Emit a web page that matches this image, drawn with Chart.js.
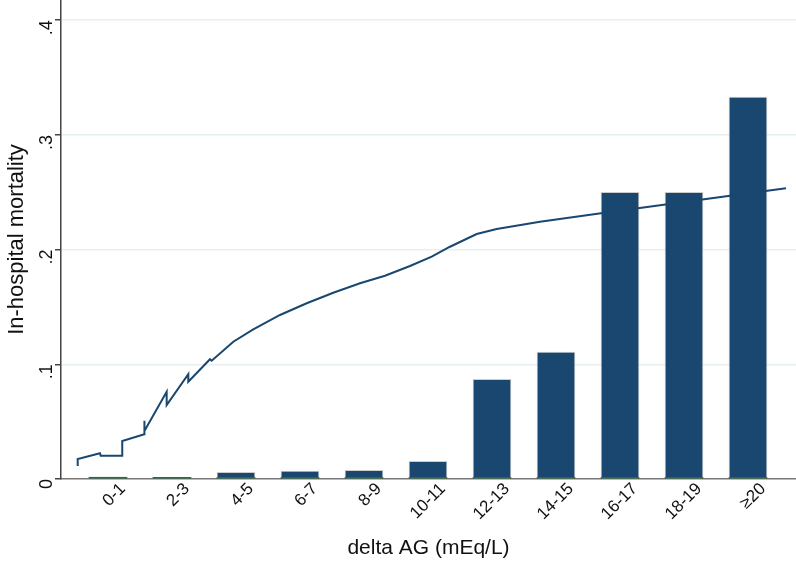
<!DOCTYPE html>
<html lang="en">
<head>
    <meta charset="UTF-8">
    <title>In-hospital mortality by delta AG</title>
    <script src="https://cdn.jsdelivr.net/npm/chart.js"></script>
    <style>
        body { margin: 0; background: #fff; }
        #wrap { width: 796px; height: 561px; }
    </style>
</head>
<body>
    <div id="wrap"><canvas id="mortalityChart"></canvas></div>

    <script>
        // delta AG categories (bars sit at x = 0..10)
        const categories = ['0-1', '2-3', '4-5', '6-7', '8-9', '10-11', '12-13', '14-15', '16-17', '18-19', '\u226520'];
        const mortality = [0.0018, 0.0015, 0.0058, 0.0070, 0.0076, 0.0155, 0.0869, 0.1107, 0.25, 0.25, 0.333];
        const baseline = [0.0015, 0.0015, 0.0015, 0.0015, 0.0015, 0.0015, 0.0015, 0.0015, 0.0015, 0.0015, 0.0015];

        // smoothed curve, x in category units
        const smoothX = [-0.473, -0.473, -0.125, -0.114, 0.223, 0.223, 0.567, 0.567, 0.572, 0.917, 0.917, 1.255, 1.255,
            1.594, 1.620, 1.958, 2.270, 2.688, 3.105, 3.520, 3.938, 4.328, 4.719, 5.058, 5.344, 5.761, 6.073,
            6.750, 7.703, 9.719, 10.594];
        const smoothY = [0.0113, 0.0174, 0.0224, 0.0203, 0.0203, 0.0331, 0.0390, 0.0508, 0.0418, 0.0761, 0.0645, 0.0913, 0.0848,
            0.1044, 0.1031, 0.1197, 0.1305, 0.1430, 0.1532, 0.1624, 0.1706, 0.1772, 0.1857, 0.1938, 0.2025, 0.2136, 0.2180,
            0.2243, 0.2316, 0.2470, 0.2534];

        const yTicks = [0, 0.1, 0.2, 0.3, 0.4];

        const navy = '#1a476f';
        const font = "'Liberation Sans', Arial, sans-serif";

        const ctx = document.getElementById('mortalityChart').getContext('2d');
        const chart = new Chart(ctx, {
            data: {
                datasets: [
                    {
                        type: 'line',
                        data: smoothX.map((x, i) => ({ x: x, y: smoothY[i] })),
                        borderColor: navy,
                        borderWidth: 2,
                        pointRadius: 0,
                        tension: 0,
                        order: 0,
                    },
                    {
                        type: 'bar',
                        data: baseline.map((v, i) => ({ x: i, y: v })),
                        backgroundColor: '#2c6b3c',
                        barThickness: 38,
                        grouped: false,
                        order: 1,
                    },
                    {
                        type: 'bar',
                        data: mortality.map((v, i) => ({ x: i, y: v })),
                        backgroundColor: navy,
                        borderColor: 'rgba(200,200,200,0.9)',
                        borderWidth: 1,
                        borderSkipped: 'bottom',
                        barThickness: 38,
                        grouped: false,
                        order: 2,
                    },
                ],
            },
            options: {
                responsive: true,
                maintainAspectRatio: false,
                animation: false,
                layout: { padding: 0 },
                plugins: {
                    legend: { display: false },
                    tooltip: { enabled: false },
                },
                scales: {
                    x: {
                        type: 'linear',
                        offset: false,
                        min: -0.734,
                        max: 10.75,
                        afterBuildTicks: (axis) => {
                            axis.ticks = categories.map((c, i) => ({ value: i }));
                        },
                        afterFit: (axis) => {
                            axis.height = 82;
                            axis.paddingLeft = 0;
                            axis.paddingRight = 0;
                        },
                        ticks: {
                            minRotation: 45,
                            maxRotation: 45,
                            color: '#111',
                            font: { family: font, size: 17 },
                            padding: 0,
                            labelOffset: 15,
                            callback: (v) => categories[v],
                        },
                        grid: { display: false, drawTicks: false, tickLength: 6 },
                        border: { color: '#777', width: 1.5 },
                        title: {
                            display: true,
                            text: 'delta AG (mEq/L)',
                            color: '#111',
                            font: { family: font, size: 21 },
                            padding: { top: 6, bottom: 0 },
                        },
                    },
                    y: {
                        type: 'linear',
                        min: 0,
                        max: 0.4176,
                        afterBuildTicks: (axis) => {
                            axis.ticks = yTicks.map((v) => ({ value: v }));
                        },
                        afterFit: (axis) => {
                            axis.width = 61;
                            axis.paddingTop = 0;
                            axis.paddingBottom = 0;
                        },
                        ticks: {
                            minRotation: 90,
                            maxRotation: 90,
                            color: '#111',
                            font: { family: font, size: 18 },
                            padding: 8,
                            callback: (v) => (v === 0 ? '0' : String(Math.round(v * 10) / 10).replace('0.', '.')),
                        },
                        grid: {
                            color: (c) => (c.tick && c.tick.value === 0 ? 'rgba(0,0,0,0)' : '#e6eff1'),
                            lineWidth: 1.5,
                            tickColor: '#444',
                            tickLength: 6,
                        },
                        border: { color: '#444', width: 1.5 },
                        title: {
                            display: true,
                            text: 'In-hospital mortality',
                            color: '#111',
                            font: { family: font, size: 22 },
                            padding: { top: 4, bottom: 0 },
                        },
                    },
                },
            },
        });
    </script>
</body>
</html>
